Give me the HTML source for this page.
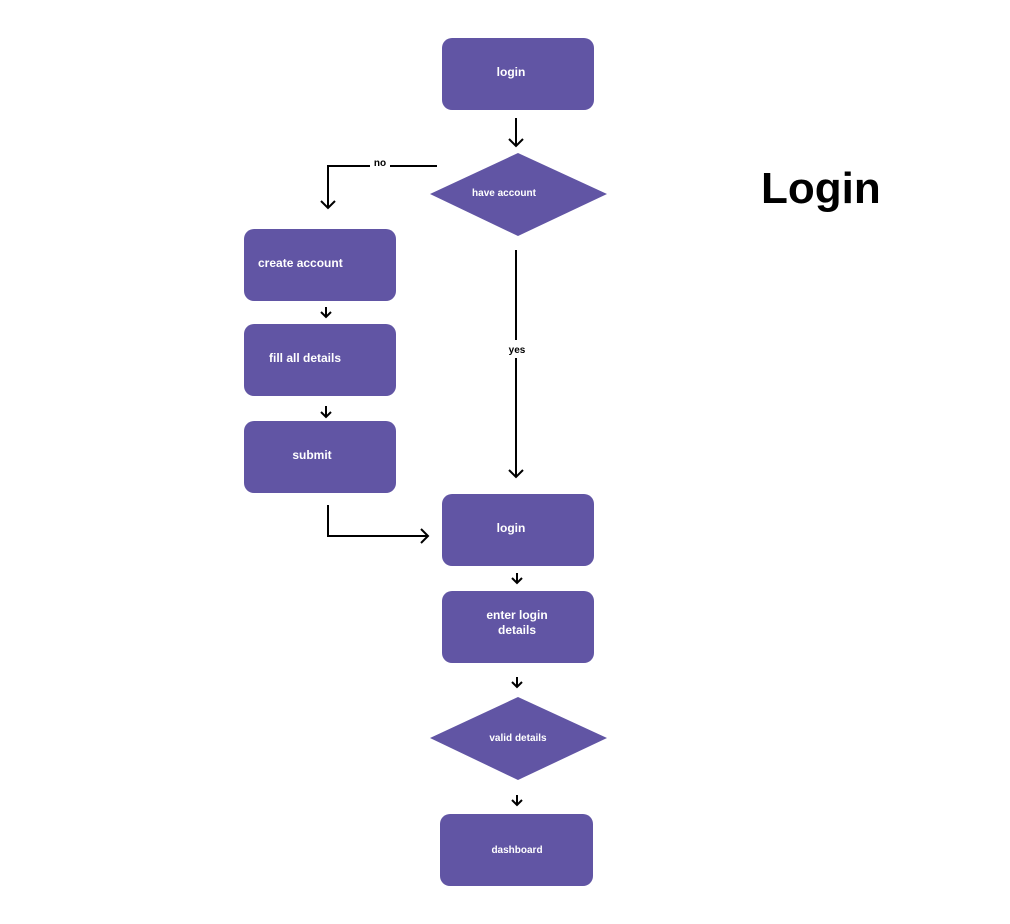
<!DOCTYPE html>
<html><head><style>
body{margin:0;background:#fff;}
svg{display:block}
text{font-family:"Liberation Sans",sans-serif;}
</style></head><body>
<svg width="1010" height="924" xmlns="http://www.w3.org/2000/svg">
<g fill="#6155A4">
<rect x="442" y="38" width="152" height="72" rx="10"/>
<polygon points="430,194 518,153 607,194 518,236"/>
<rect x="244" y="229" width="152" height="72" rx="10"/>
<rect x="244" y="324" width="152" height="72" rx="10"/>
<rect x="244" y="421" width="152" height="72" rx="10"/>
<rect x="442" y="494" width="152" height="72" rx="10"/>
<rect x="442" y="591" width="152" height="72" rx="10"/>
<polygon points="430,738 518,697 607,738 518,780"/>
<rect x="440" y="814" width="153" height="72" rx="10"/>
</g>
<g fill="#fff" font-size="12" font-weight="bold" text-anchor="middle">
<text x="511" y="76">login</text>
<text x="504" y="196" font-size="10">have account</text>
<text x="302" y="267" text-anchor="start" x2="0" style="text-anchor:start" transform="translate(-44,0)">create account</text>
<text x="305" y="362">fill all details</text>
<text x="312" y="459">submit</text>
<text x="511" y="532">login</text>
<text x="517" y="619">enter login</text>
<text x="517" y="634">details</text>
<text x="518" y="741" font-size="10">valid details</text>
<text x="517" y="853" font-size="10">dashboard</text>
</g>
<g stroke="#000" stroke-width="2" fill="none">
<path d="M516 118V146M509 139L516 146L523 139"/>
<path d="M437 166H390M370 166H328V208M321 201L328 208L335 201"/>
<path d="M326 307V317M321 312L326 317L331 312"/>
<path d="M326 406V417M321 412L326 417L331 412"/>
<path d="M516 250V340M516 358V477M509 470L516 477L523 470"/>
<path d="M328 505V536H428M421 529L428 536L421 543"/>
<path d="M517 573V583M512 578L517 583L522 578"/>
<path d="M517 677V687M512 682L517 687L522 682"/>
<path d="M517 795V805M512 800L517 805L522 800"/>
</g>
<g font-size="10" font-weight="bold" fill="#000" text-anchor="middle">
<text x="380" y="166">no</text>
<text x="517" y="353">yes</text>
</g>
<text x="761" y="203" font-size="44" font-weight="bold" fill="#000">Login</text>
</svg>
</body></html>
